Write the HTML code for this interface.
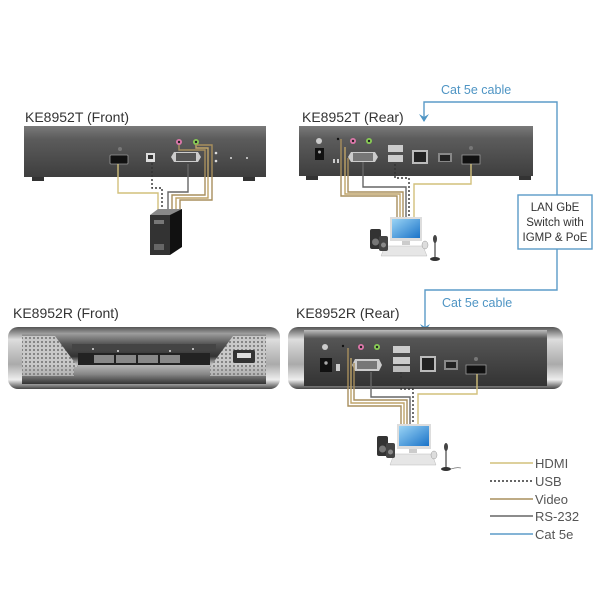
<!DOCTYPE html>
<html><head><meta charset="utf-8"><style>
html,body{margin:0;padding:0;background:#fff;}
svg{display:block;font-family:"Liberation Sans","DejaVu Sans",sans-serif;}
</style></head><body>
<svg width="600" height="600" viewBox="0 0 600 600" xmlns="http://www.w3.org/2000/svg">
<defs>
<linearGradient id="body" x1="0" y1="0" x2="0" y2="1">
<stop offset="0" stop-color="#7a7a7a"/><stop offset="0.25" stop-color="#5c5c5c"/><stop offset="1" stop-color="#3e3e3e"/></linearGradient>
<linearGradient id="rbody" x1="0" y1="0" x2="0" y2="1">
<stop offset="0" stop-color="#bdbdbd"/><stop offset="0.15" stop-color="#555"/><stop offset="1" stop-color="#333"/></linearGradient>
<linearGradient id="cap" x1="0" y1="0" x2="0" y2="1">
<stop offset="0" stop-color="#555"/><stop offset="0.2" stop-color="#ddd"/><stop offset="0.6" stop-color="#aaa"/><stop offset="0.85" stop-color="#eee"/><stop offset="1" stop-color="#444"/></linearGradient>
<linearGradient id="front" x1="0" y1="0" x2="0" y2="1">
<stop offset="0" stop-color="#999"/><stop offset="0.2" stop-color="#555"/><stop offset="0.45" stop-color="#333"/><stop offset="0.6" stop-color="#bbb"/><stop offset="0.8" stop-color="#888"/><stop offset="1" stop-color="#333"/></linearGradient>
<pattern id="dots" width="4" height="4" patternUnits="userSpaceOnUse"><rect width="4" height="4" fill="#c8c8c8"/><circle cx="2" cy="2" r="0.9" fill="#555"/></pattern>
<linearGradient id="scr" x1="0" y1="0" x2="1" y2="1"><stop offset="0" stop-color="#9ad4f5"/><stop offset="1" stop-color="#1a73c8"/></linearGradient>
</defs>

<!-- ===== KE8952T Front ===== -->
<text x="25" y="122" font-size="14" fill="#333">KE8952T (Front)</text>
<rect x="32" y="176" width="12" height="5" fill="#333"/><rect x="243" y="176" width="12" height="5" fill="#333"/>
<rect x="24" y="126" width="242" height="51" fill="url(#body)"/>
<rect x="110" y="155" width="18" height="9" rx="1" fill="#111" stroke="#999" stroke-width="0.8"/>
<circle cx="120" cy="149" r="2" fill="#777"/>
<rect x="146" y="153" width="9" height="9" fill="#ddd"/><rect x="148" y="155" width="5" height="4" fill="#333"/>
<path d="M171 157 l3-5 h24 l3 5 l-3 5 h-24z" fill="#ccc"/><rect x="176" y="153" width="20" height="8" fill="#555"/>
<circle cx="179" cy="142" r="3" fill="#d7a" /><circle cx="179" cy="142" r="1.2" fill="#222"/>
<circle cx="196" cy="142" r="3" fill="#8c5"/><circle cx="196" cy="142" r="1.2" fill="#222"/>
<circle cx="216" cy="153" r="1.3" fill="#ddd"/><circle cx="216" cy="161" r="1.3" fill="#ddd"/>
<circle cx="231" cy="158" r="1" fill="#ddd"/><circle cx="247" cy="158" r="1" fill="#ddd"/>
<!-- cables T front -->
<g fill="none" stroke-width="1.4">
<path d="M118 164 V193 H158 V212" stroke="#d2c07c"/>
<path d="M152 163 V188 H162 V208" stroke="#333" stroke-dasharray="2,2"/>
<path d="M188 164 V192 H168 V212" stroke="#666"/>
<path d="M179 145 V150 H205 V195 H172 V212" stroke="#a88f5d"/>
<path d="M196 145 V148 H208 V198 H176 V212" stroke="#bfa468"/>
<path d="M196 145 H212 V200 H180 V212" stroke="#a88f5d"/>
</g>
<!-- tower -->
<path d="M150 215 l8 -6 h24 l-6 6z" fill="#888"/>
<rect x="150" y="215" width="20" height="40" fill="#333"/>
<path d="M170 215 l12 -6 v38 l-12 8z" fill="#111"/>
<rect x="154" y="220" width="10" height="4" fill="#777"/><rect x="154" y="244" width="10" height="6" fill="#666"/>

<!-- ===== KE8952T Rear ===== -->
<text x="302" y="122" font-size="14" fill="#333">KE8952T (Rear)</text>
<rect x="306" y="175" width="12" height="5" fill="#333"/><rect x="519" y="175" width="12" height="5" fill="#333"/>
<rect x="299" y="126" width="234" height="50" fill="url(#body)"/>
<circle cx="319" cy="141" r="3" fill="#ccc"/>
<rect x="315" y="148" width="9" height="12" fill="#111"/><circle cx="319.5" cy="152" r="1.5" fill="#aaa"/>
<rect x="333" y="159" width="2" height="4" fill="#ccc"/><rect x="337" y="159" width="2" height="4" fill="#ccc"/>
<circle cx="338" cy="139" r="1.2" fill="#111"/>
<circle cx="353" cy="141" r="3" fill="#d7a"/><circle cx="353" cy="141" r="1.2" fill="#222"/>
<circle cx="369" cy="141" r="3" fill="#8c5"/><circle cx="369" cy="141" r="1.2" fill="#222"/>
<path d="M348 157 l3-5 h24 l3 5 l-3 5 h-24z" fill="#ccc"/><rect x="353" y="153" width="20" height="8" fill="#777"/>
<rect x="388" y="145" width="15" height="7" fill="#ccc"/><rect x="388" y="155" width="15" height="7" fill="#ccc"/>
<rect x="412" y="150" width="16" height="14" fill="#bbb"/><rect x="414" y="152" width="12" height="10" fill="#222"/>
<rect x="438" y="153" width="14" height="9" fill="#888"/><rect x="440" y="155" width="10" height="6" fill="#222"/>
<rect x="462" y="155" width="18" height="9" fill="#111" stroke="#999" stroke-width="0.8"/><circle cx="471" cy="148" r="2" fill="#777"/>
<g fill="none" stroke-width="1.4">
<path d="M341 139 V196 H397 V217" stroke="#a88f5d"/>
<path d="M345 147 V194 H400 V217" stroke="#bfa468"/>
<path d="M348 158 H348 V192 H403 V217" stroke="#a88f5d"/>
<path d="M363 162 V187 H406 V217" stroke="#666"/>
<path d="M395 164 V178 H409 V217" stroke="#333" stroke-dasharray="2,2"/>
<path d="M471 164 V184 H414 V217" stroke="#d2c07c"/>
</g>
<!-- workstation 1 -->
<rect x="390" y="217" width="32" height="24" fill="#ddd"/><rect x="392" y="219" width="28" height="19" fill="url(#scr)"/>
<rect x="402" y="241" width="8" height="4" fill="#ccc"/>
<path d="M385 246 h38 l4 10 h-46z" fill="#e6e6e6" stroke="#bbb" stroke-width="0.5"/>
<rect x="370" y="229" width="11" height="20" rx="2" fill="#333"/><circle cx="375.5" cy="242" r="3.5" fill="#777"/>
<rect x="379" y="236" width="9" height="15" rx="2" fill="#444"/><circle cx="383.5" cy="245" r="2.5" fill="#888"/>
<ellipse cx="425" cy="245" rx="3" ry="4" fill="#ddd" stroke="#999" stroke-width="0.5"/>
<line x1="435" y1="240" x2="435" y2="258" stroke="#444" stroke-width="1.2"/><ellipse cx="435" cy="239" rx="2" ry="4" fill="#444"/>
<ellipse cx="435" cy="259" rx="5" ry="2" fill="#333"/>

<!-- ===== Cat5e & switch ===== -->
<text x="441" y="94" font-size="12.5" fill="#4f95c4">Cat 5e cable</text>
<path d="M424 121 V102 H557 V195" fill="none" stroke="#5b9bc8" stroke-width="1.4"/>
<path d="M419 114 L424 122 L429 114 L424 117z" fill="#4f95c4"/>
<rect x="518" y="195" width="74" height="54" fill="#fff" stroke="#5b9bc8" stroke-width="1.4"/>
<g font-size="11.5" fill="#333" text-anchor="middle">
<text x="555" y="211">LAN GbE</text><text x="555" y="226">Switch with</text><text x="555" y="241">IGMP &amp; PoE</text></g>
<path d="M557 249 V290 H425 V332" fill="none" stroke="#5b9bc8" stroke-width="1.4"/>
<path d="M420 324 L425 332 L430 324 L425 327z" fill="#4f95c4"/>
<text x="442" y="307" font-size="12.5" fill="#4f95c4">Cat 5e cable</text>

<!-- ===== KE8952R Front ===== -->
<text x="13" y="318" font-size="14" fill="#333">KE8952R (Front)</text>
<rect x="8" y="327" width="272" height="62" rx="10" fill="url(#cap)"/>
<rect x="22" y="334" width="244" height="50" fill="url(#front)"/>
<path d="M22 336 H55 L78 367 H22z" fill="url(#dots)"/>
<path d="M266 336 H233 L210 367 H266z" fill="url(#dots)"/>
<rect x="22" y="366" width="52" height="10" fill="url(#dots)" opacity="0.7"/>
<rect x="210" y="366" width="56" height="10" fill="url(#dots)" opacity="0.7"/>
<rect x="72" y="344" width="144" height="6" fill="#444"/>
<rect x="78" y="353" width="132" height="12" fill="#222"/>
<g fill="#888"><rect x="94" y="355" width="20" height="8"/><rect x="116" y="355" width="20" height="8"/><rect x="138" y="355" width="20" height="8"/><rect x="160" y="355" width="20" height="8"/></g>
<g fill="#ddd"><circle cx="93" cy="349" r="1"/><circle cx="118" cy="351" r="1"/><circle cx="170" cy="351" r="1"/><circle cx="193" cy="349" r="1"/></g>
<rect x="233" y="350" width="22" height="13" rx="2" fill="#333"/><rect x="237" y="353" width="14" height="5" fill="#ddd"/>

<!-- ===== KE8952R Rear ===== -->
<text x="296" y="318" font-size="14" fill="#333">KE8952R (Rear)</text>
<rect x="288" y="327" width="275" height="62" rx="10" fill="url(#cap)"/>
<rect x="304" y="330" width="243" height="56" fill="url(#rbody)"/>
<circle cx="325" cy="347" r="3" fill="#ccc"/>
<rect x="320" y="358" width="12" height="14" fill="#111"/><circle cx="326" cy="363" r="1.7" fill="#aaa"/>
<rect x="336" y="364" width="4" height="7" fill="#ccc"/>
<circle cx="343" cy="346" r="1.2" fill="#111"/>
<circle cx="361" cy="347" r="3" fill="#d7a"/><circle cx="361" cy="347" r="1.2" fill="#222"/>
<circle cx="377" cy="347" r="3" fill="#8c5"/><circle cx="377" cy="347" r="1.2" fill="#222"/>
<path d="M352 365 l3-6 h24 l3 6 l-3 6 h-24z" fill="#ccc"/><rect x="357" y="361" width="20" height="8" fill="#777"/>
<rect x="393" y="346" width="17" height="7" fill="#ccc"/><rect x="393" y="357" width="17" height="7" fill="#ccc"/><rect x="393" y="366" width="17" height="6" fill="#bbb"/>
<rect x="420" y="356" width="16" height="16" fill="#bbb"/><rect x="422" y="358" width="12" height="12" fill="#222"/>
<rect x="444" y="360" width="14" height="10" fill="#888"/><rect x="446" y="362" width="10" height="6" fill="#222"/>
<rect x="466" y="365" width="20" height="9" fill="#111" stroke="#999" stroke-width="0.8"/><circle cx="476" cy="359" r="2" fill="#777"/>
<g fill="none" stroke-width="1.4">
<path d="M348 348 V406 H401 V426" stroke="#a88f5d"/>
<path d="M351 358 V403 H404 V426" stroke="#bfa468"/>
<path d="M354 363 V400 H407 V426" stroke="#a88f5d"/>
<path d="M371 372 V397 H410 V426" stroke="#666"/>
<path d="M401 372 V389 H413 V426" stroke="#333" stroke-dasharray="2,2"/>
<path d="M477 374 V394 H418 V426" stroke="#d2c07c"/>
</g>
<!-- workstation 2 -->
<rect x="397" y="424" width="34" height="25" fill="#ddd"/><rect x="399" y="426" width="30" height="20" fill="url(#scr)"/>
<rect x="409" y="449" width="8" height="4" fill="#ccc"/>
<path d="M394 454 h38 l4 11 h-46z" fill="#e6e6e6" stroke="#bbb" stroke-width="0.5"/>
<rect x="377" y="436" width="11" height="20" rx="2" fill="#333"/><circle cx="382.5" cy="449" r="3.5" fill="#777"/>
<rect x="386" y="443" width="9" height="15" rx="2" fill="#444"/><circle cx="390.5" cy="452" r="2.5" fill="#888"/>
<ellipse cx="434" cy="455" rx="3" ry="4" fill="#ddd" stroke="#999" stroke-width="0.5"/>
<line x1="446" y1="448" x2="446" y2="468" stroke="#444" stroke-width="1.2"/><ellipse cx="446" cy="447" rx="2" ry="4" fill="#444"/>
<ellipse cx="446" cy="469" rx="5" ry="2" fill="#333"/><path d="M451 469 q5 -2 10 -1" stroke="#555" fill="none" stroke-width="0.6"/>

<!-- ===== Legend ===== -->
<g stroke-width="1.5">
<line x1="490" y1="463" x2="533" y2="463" stroke="#d2c07c"/>
<line x1="490" y1="481" x2="533" y2="481" stroke="#333" stroke-dasharray="2,2"/>
<line x1="490" y1="499" x2="533" y2="499" stroke="#a88f5d"/>
<line x1="490" y1="516" x2="533" y2="516" stroke="#666"/>
<line x1="490" y1="534" x2="533" y2="534" stroke="#5b9bc8"/>
</g>
<g font-size="13" fill="#555">
<text x="535" y="468">HDMI</text><text x="535" y="486">USB</text><text x="535" y="504">Video</text><text x="535" y="521">RS-232</text><text x="535" y="539">Cat 5e</text></g>
</svg>
</body></html>
